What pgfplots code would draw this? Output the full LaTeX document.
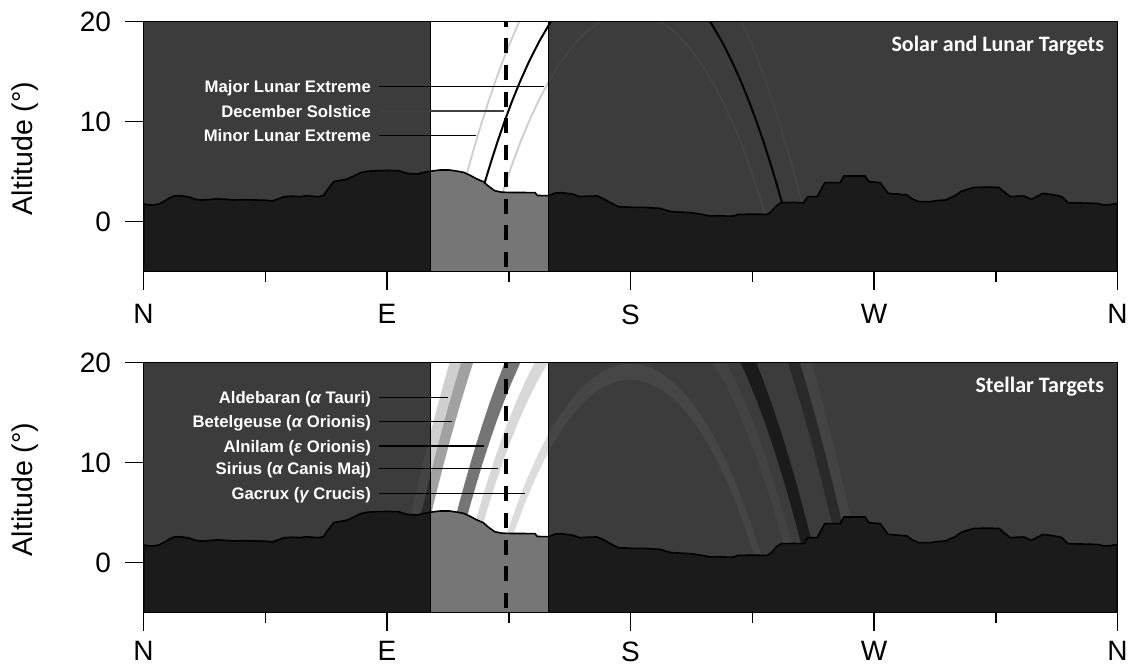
\documentclass[border=0pt]{standalone}
\usepackage{pgfplots}
\pgfplotsset{compat=1.18}
\usepackage{pgfplotstable}
\usepackage{fontspec}
\setmainfont{Liberation Sans}
\newfontfamily\calfont{Carlito}

\definecolor{bgdark}{gray}{0.235}
\definecolor{hzdark}{gray}{0.106}
\definecolor{hzwin}{gray}{0.463}
\definecolor{lunar}{gray}{0.353}
\definecolor{bandA}{gray}{0.357}
\definecolor{bandB}{gray}{0.055}
\definecolor{bandC}{gray}{0.0}
\definecolor{bandD}{gray}{0.365}
\definecolor{bandE}{gray}{0.41}

% horizon profile (azimuth, altitude), closed to the bottom of the axis
\pgfplotstableread{
az alt
0 -5
0 1.77
2 1.68
4 1.68
6 1.8
8 2.1
9.5 2.35
11 2.55
13 2.6
15 2.55
17 2.45
19 2.25
21 2.17
24 2.2
27 2.28
30 2.25
33 2.17
37 2.2
41 2.17
45 2.15
47.6 2.07
50 2.3
52 2.5
55 2.55
58 2.5
60 2.6
62 2.55
64.6 2.5
66.5 2.6
68 3.2
70.3 4.0
72 4.1
74.5 4.2
76 4.35
78 4.6
80.2 4.9
83 5.05
86 5.1
90 5.12
94.3 5.1
96 4.95
97.5 4.83
101.4 4.77
103 4.9
106.1 5.05
109.6 5.17
113 5.17
116 5.05
118.4 4.93
121 4.6
123 4.3
125.6 4.0
127.5 3.55
129.8 3.1
132.4 2.95
136 2.92
140 2.92
144.7 2.9
145.6 2.62
149.7 2.6
150.3 2.67
152 2.85
154.2 2.9
156 2.85
158.4 2.77
161.3 2.5
164 2.55
167.6 2.57
170 2.3
172.6 1.9
175.4 1.5
178 1.47
181.1 1.43
185 1.43
191 1.33
193 1.15
195.2 1.0
199 0.95
202.3 0.9
206 0.75
209.4 0.57
213 0.6
216 0.55
217.9 0.57
220 0.73
225 0.75
230.6 0.73
232 1.0
234 1.6
235.6 1.9
240 1.92
244 1.9
245.5 2.5
249 2.5
251.8 3.9
257.5 3.9
258.9 4.57
266.7 4.57
268.1 4.0
272.3 3.9
275.2 2.83
279 2.75
282.2 2.67
284 2.3
286.5 2.0
290.7 2.0
293 2.1
296.4 2.17
298.5 2.43
300 2.6
302 3.0
304 3.2
307 3.43
312 3.45
316.2 3.43
318 3.0
320.4 2.5
323 2.55
325.4 2.57
328.2 2.23
330 2.5
332.5 2.83
335.3 2.73
338 2.6
339.5 2.5
341.7 1.9
345 1.88
349 1.85
352.3 1.83
355.1 1.67
357 1.7
360 1.83
360 -5
}\horizon

\pgfplotstableread{
az alt
106.1 -5
106.1 5.05
109.6 5.17
113 5.17
116 5.05
118.4 4.93
121 4.6
123 4.3
125.6 4.0
127.5 3.55
129.8 3.1
132.4 2.95
136 2.92
140 2.92
144.7 2.9
145.6 2.62
149.7 2.6
149.7 -5
}\horwin

\pgfplotsset{panel/.style={
  width=974pt, height=250pt, scale only axis,
  xmin=0, xmax=360, ymin=-5, ymax=20,
  axis background/.style={fill=bgdark},
  xtick={0,90,180,270,360}, xticklabels={N,E,S,W,N},
  minor xtick={45,135,225,315},
  ytick={0,10,20},
  xtick pos=left, ytick pos=left,
  tick align=outside,
  major tick length=18pt, minor tick length=10pt,
  every tick/.style={black, line width=1.5pt},
  axis line style={black, line width=1.5pt},
  ticklabel style={font=\fontsize{28}{31}\selectfont},
  yticklabel style={xshift=-11pt},
  /pgf/number format/assume math mode=true,
  axis on top,
}}

\newcommand{\labfont}{\fontsize{16.7}{18}\selectfont\bfseries}

\begin{document}
\begin{tikzpicture}[x=1pt,y=1pt]

% ================= TOP PANEL =================
\begin{axis}[panel, at={(143.5pt,394.3pt)}, anchor=south west, xticklabel style={inner sep=0pt, yshift=-14.8pt}]
  % white window
  \addplot[draw=none, fill=white] coordinates {(106.1,-5) (106.1,20) (149.7,20) (149.7,-5)};
  % minor lunar extreme
  \addplot[lunar, draw opacity=0.3, line width=1.8pt] coordinates {
    (113.06,-2) (114.88,0) (116.76,2) (118.71,4) (120.75,6) (122.87,8) (125.11,10)
    (127.48,12) (130.0,14) (132.71,16) (135.64,18) (138.86,20) (142.45,22)};
  \addplot[lunar, draw opacity=0.25, line width=1.8pt] coordinates {
    (217.55,22) (221.14,20) (224.36,18) (227.29,16) (230.0,14) (232.52,12) (234.89,10)
    (237.13,8) (239.25,6) (241.29,4) (243.24,2) (245.12,0) (246.94,-2)};
  % major lunar extreme
  \addplot[lunar, draw opacity=0.3, line width=1.8pt] coordinates {
    (127.3,-2) (129.41,0) (131.65,2) (134.04,4) (136.6,6) (139.38,8) (142.43,10)
    (145.84,12) (149.72,14) (154.3,16) (160.09,18) (163.82,19) (168.83,20) (172.54,20.5)
    (176.27,20.8) (180,20.9) (183.73,20.8) (187.46,20.5) (191.17,20) (196.18,19)
    (199.91,18) (205.7,16) (210.28,14) (214.16,12) (217.57,10) (220.62,8) (223.4,6)
    (225.96,4) (228.35,2) (230.59,0) (232.7,-2)};
  % December solstice
  \addplot[black, line width=2pt] coordinates {
    (120.13,-2) (122.07,0) (124.1,2) (126.22,4) (128.47,6) (130.85,8) (133.40,10)
    (136.15,12) (139.15,14) (142.47,16) (146.2,18) (150.52,20) (155.74,22)};
  \addplot[black, line width=2pt] coordinates {
    (204.26,22) (209.48,20) (213.8,18) (217.53,16) (220.85,14) (223.85,12) (226.6,10)
    (229.15,8) (231.53,6) (233.78,4) (235.9,2) (237.93,0) (239.87,-2)};
  % horizon
  \addplot[draw=none, fill=hzdark] table {\horizon};
  \addplot[draw=none, fill=hzwin] table {\horwin};
  \addplot[black, line width=1.6pt] table {\horizon};
  \addplot[black, line width=1.8pt] coordinates {(106.1,-5) (106.1,20)};
  \addplot[black, line width=1.8pt] coordinates {(149.7,-5) (149.7,20)};
  % dashed line
  \addplot[black, line width=3.6pt, dash pattern=on 15pt off 11.7pt, dash phase=10pt]
    coordinates {(133.9,20) (133.9,-5)};
  % label lines
  \addplot[black, line width=1.3pt] coordinates {(87.1,13.5) (148.0,13.5)};
  \addplot[black!75, line width=1.3pt] coordinates {(87.1,11.07) (133.4,11.07)};
  \addplot[black, line width=1.3pt] coordinates {(87.1,8.6) (122.9,8.6)};
  \node[anchor=base east, text=white, font=\labfont, inner sep=0pt] at (axis cs:84.1,12.88) {Major Lunar Extreme};
  \node[anchor=base east, text=white, font=\labfont, inner sep=0pt] at (axis cs:84.1,10.45) {December Solstice};
  \node[anchor=base east, text=white, font=\labfont, inner sep=0pt] at (axis cs:84.1,7.98) {Minor Lunar Extreme};
  \node[anchor=base east, text=white, font=\calfont\bfseries\fontsize{22}{24}\selectfont, inner sep=0pt]
    at (axis cs:355.1,17.0) {Solar and Lunar Targets};
\end{axis}

% ================= BOTTOM PANEL =================
\begin{axis}[panel, at={(143.5pt,53.3pt)}, anchor=south west, xticklabel style={inner sep=0pt, yshift=-10.8pt}]
  \addplot[draw=none, fill=white] coordinates {(106.1,-5) (106.1,20) (149.7,20) (149.7,-5)};
  % Band A (Aldebaran)
  \addplot[draw=none, fill=bandA, fill opacity=0.29] coordinates {
    (93.02,-2) (94.70,0) (96.39,2) (98.10,4) (99.82,6) (101.58,8) (103.37,10) (105.20,12)
    (107.08,14) (109.02,16) (111.03,18) (113.12,20) (115.31,22)
    (119.73,22) (117.41,20) (115.19,18) (113.08,16) (111.05,14) (109.09,12) (107.20,10)
    (105.36,8) (103.56,6) (101.80,4) (100.07,2) (98.37,0) (96.68,-2)};
  \addplot[draw=none, fill=bandA, fill opacity=0.29] coordinates {
    (266.98,-2) (265.30,0) (263.61,2) (261.90,4) (260.18,6) (258.42,8) (256.63,10) (254.80,12)
    (252.92,14) (250.98,16) (248.97,18) (246.88,20) (244.69,22)
    (240.27,22) (242.59,20) (244.81,18) (246.92,16) (248.95,14) (250.91,12) (252.80,10)
    (254.64,8) (256.44,6) (258.20,4) (259.93,2) (261.63,0) (263.32,-2)};
  % Band B (Betelgeuse)
  \addplot[draw=none, fill=bandB, fill opacity=0.39] coordinates {
    (96.68,-2) (98.37,0) (100.07,2) (101.80,4) (103.56,6) (105.36,8) (107.20,10) (109.09,12)
    (111.05,14) (113.08,16) (115.19,18) (117.41,20) (119.73,22)
    (124.34,22) (121.84,20) (119.48,18) (117.24,16) (115.11,14) (113.06,12) (111.09,10)
    (109.19,8) (107.34,6) (105.54,4) (103.78,2) (102.05,0) (100.34,-2)};
  \addplot[draw=none, fill=bandB, fill opacity=0.39] coordinates {
    (263.32,-2) (261.63,0) (259.93,2) (258.20,4) (256.44,6) (254.64,8) (252.80,10) (250.91,12)
    (248.95,14) (246.92,16) (244.81,18) (242.59,20) (240.27,22)
    (235.66,22) (238.16,20) (240.52,18) (242.76,16) (244.89,14) (246.94,12) (248.91,10)
    (250.81,8) (252.66,6) (254.46,4) (256.22,2) (257.95,0) (259.66,-2)};
  % Band C (Alnilam)
  \addplot[draw=none, fill=bandC, fill opacity=0.54] coordinates {
    (109.31,-2) (111.09,0) (112.91,2) (114.80,4) (116.74,6) (118.77,8) (120.89,10) (123.11,12)
    (125.46,14) (127.95,16) (130.62,18) (133.5,20) (136.65,22)
    (142.88,22) (139.26,20) (136.02,18) (133.06,16) (130.33,14) (127.80,12) (125.42,10)
    (123.17,8) (121.03,6) (118.99,4) (117.04,2) (115.15,0) (113.33,-2)};
  \addplot[draw=none, fill=bandC, fill opacity=0.54] coordinates {
    (250.69,-2) (248.91,0) (247.09,2) (245.20,4) (243.26,6) (241.23,8) (239.11,10) (236.89,12)
    (234.54,14) (232.05,16) (229.38,18) (226.5,20) (223.35,22)
    (217.12,22) (220.74,20) (223.98,18) (226.94,16) (229.67,14) (232.20,12) (234.58,10)
    (236.83,8) (238.97,6) (241.01,4) (242.96,2) (244.85,0) (246.67,-2)};
  % Band D (Sirius)
  \addplot[draw=none, fill=bandD, fill opacity=0.24] coordinates {
    (116.71,-2) (118.58,0) (120.53,2) (122.57,4) (124.70,6) (126.95,8) (129.33,10) (131.87,12)
    (134.61,14) (137.59,16) (140.87,18) (144.55,20) (148.77,22)
    (154.52,22) (149.50,20) (145.31,18) (141.66,16) (138.41,14) (135.45,12) (132.74,10)
    (130.22,8) (127.86,6) (125.63,4) (123.52,2) (121.51,0) (119.58,-2)};
  \addplot[draw=none, fill=bandD, fill opacity=0.24] coordinates {
    (243.29,-2) (241.42,0) (239.47,2) (237.43,4) (235.30,6) (233.05,8) (230.67,10) (228.13,12)
    (225.39,14) (222.41,16) (219.13,18) (215.45,20) (211.23,22)
    (205.48,22) (210.50,20) (214.69,18) (218.34,16) (221.59,14) (224.55,12) (227.26,10)
    (229.78,8) (232.14,6) (234.37,4) (236.48,2) (238.49,0) (240.42,-2)};
  % Band E (Gacrux)
  \addplot[draw=none, fill=bandE, fill opacity=0.23] coordinates {
    (128.74,-2) (130.90,0) (133.19,2) (135.64,4) (138.29,6) (141.17,8) (144.37,10) (147.96,12)
    (152.12,14) (157.18,16) (160.25,17) (163.95,18) (168.91,19) (172.61,19.5) (176.3,19.8)
    (180,19.9) (183.7,19.8) (187.39,19.5) (191.09,19) (196.05,18) (199.75,17) (202.82,16)
    (207.88,14) (212.04,12) (215.63,10) (218.83,8) (221.71,6) (224.36,4) (226.81,2)
    (229.10,0) (231.26,-2)
    (228.92,-2) (226.69,0) (224.30,2) (221.73,4) (218.93,6) (215.84,8) (212.38,10) (208.40,12)
    (203.62,14) (200.77,15) (197.40,16) (193.13,17) (190.31,17.5) (186.31,18) (183.67,18.2)
    (180,18.3) (176.33,18.2) (173.69,18) (169.69,17.5) (166.87,17) (162.60,16) (159.23,15)
    (156.38,14) (151.60,12) (147.62,10) (144.16,8) (141.07,6) (138.27,4) (135.70,2)
    (133.31,0) (131.08,-2)};
  % horizon
  \addplot[draw=none, fill=hzdark] table {\horizon};
  \addplot[draw=none, fill=hzwin] table {\horwin};
  \addplot[black, line width=1.6pt] table {\horizon};
  \addplot[black, line width=1.8pt] coordinates {(106.1,-5) (106.1,20)};
  \addplot[black, line width=1.8pt] coordinates {(149.7,-5) (149.7,20)};
  \addplot[black, line width=3.6pt, dash pattern=on 15pt off 11.7pt, dash phase=10pt]
    coordinates {(133.9,20) (133.9,-5)};
  % label lines
  \addplot[black, line width=1.3pt] coordinates {(87.1,16.54) (112.5,16.54)};
  \addplot[black, line width=1.3pt] coordinates {(87.1,14.14) (113.9,14.14)};
  \addplot[black, line width=1.3pt] coordinates {(87.1,11.67) (125.9,11.67)};
  \addplot[black, line width=1.3pt] coordinates {(87.1,9.4) (130.9,9.4)};
  \addplot[black, line width=1.3pt] coordinates {(87.1,6.94) (141.1,6.94)};
  \node[anchor=base east, text=white, font=\labfont, inner sep=0pt] at (axis cs:84.1,15.92) {Aldebaran ({\itshape α} Tauri)};
  \node[anchor=base east, text=white, font=\labfont, inner sep=0pt] at (axis cs:84.1,13.52) {Betelgeuse ({\itshape α} Orionis)};
  \node[anchor=base east, text=white, font=\labfont, inner sep=0pt] at (axis cs:84.1,11.05) {Alnilam ({\itshape ε} Orionis)};
  \node[anchor=base east, text=white, font=\labfont, inner sep=0pt] at (axis cs:84.1,8.78) {Sirius ({\itshape α} Canis Maj)};
  \node[anchor=base east, text=white, font=\labfont, inner sep=0pt] at (axis cs:84.1,6.32) {Gacrux ({\itshape γ} Crucis)};
  \node[anchor=base east, text=white, font=\calfont\bfseries\fontsize{22}{24}\selectfont, inner sep=0pt]
    at (axis cs:355.1,17.0) {Stellar Targets};
\end{axis}

\node[rotate=90, anchor=base, font=\fontsize{28.5}{32}\selectfont, inner sep=0pt] at (32.4pt,517.5pt) {Altitude (°)};
\node[rotate=90, anchor=base, font=\fontsize{28.5}{32}\selectfont, inner sep=0pt] at (32.4pt,176.5pt) {Altitude (°)};

\pgfresetboundingbox
\path[use as bounding box] (0pt,0pt) rectangle (1131pt,666pt);
\end{tikzpicture}
\end{document}
